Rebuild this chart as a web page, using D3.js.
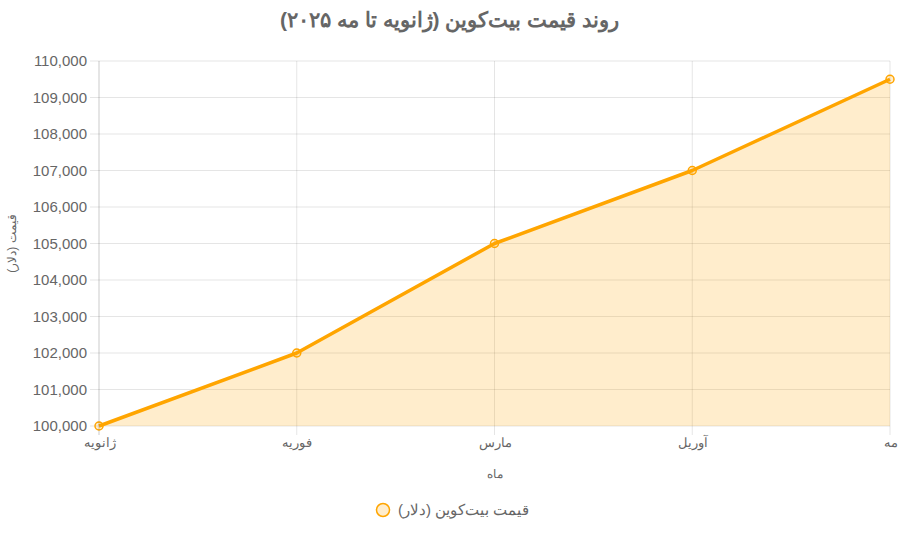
<!DOCTYPE html>
<html lang="fa">
<head>
<meta charset="utf-8">
<script src="https://cdn.jsdelivr.net/npm/d3@7/dist/d3.min.js"></script>
<style>
  html, body { margin: 0; padding: 0; background: #fff; }
  svg { display: block; font-family: "Helvetica Neue", Helvetica, Arial, sans-serif; }
</style>
</head>
<body>
<svg id="chart" width="899" height="533"></svg>
<script>
/** chart data */
const months = ["ژانویه", "فوریه", "مارس", "آوریل", "مه"];
const prices = [100000, 102000, 105000, 107000, 109500];
const yTicks = [100000, 101000, 102000, 103000, 104000, 105000, 106000, 107000, 108000, 109000, 110000];

const title = "روند قیمت بیت‌کوین (ژانویه تا مه ۲۰۲۵)";
const seriesName = "قیمت بیت‌کوین (دلار)";
const xTitle = "ماه";
const yTitle = "قیمت (دلار)";

const svg = d3.select("#chart");
const width = 899, height = 533;
const margin = { top: 61, right: 9, bottom: 107, left: 99 };
const grid = "rgba(0,0,0,0.1)";
const textColor = "#666";
const orange = "rgb(255,165,0)";

/** scales */
const x = d3.scalePoint()
  .domain(months)
  .range([margin.left, width - margin.right]);

const y = d3.scaleLinear()
  .domain([100000, 110000])
  .range([height - margin.bottom, margin.top]);

/** grid lines */
svg.append("g")
  .selectAll("line")
  .data(yTicks)
  .join("line")
  .attr("x1", margin.left - 9)
  .attr("x2", width - margin.right)
  .attr("y1", (d) => y(d))
  .attr("y2", (d) => y(d))
  .attr("stroke", grid);

svg.append("g")
  .selectAll("line")
  .data(months)
  .join("line")
  .attr("x1", (d) => x(d))
  .attr("x2", (d) => x(d))
  .attr("y1", margin.top)
  .attr("y2", height - margin.bottom + 9)
  .attr("stroke", grid);

/** area + line */
const area = d3.area()
  .x((d, i) => x(months[i]))
  .y0(y(100000))
  .y1((d) => y(d));

const line = d3.line()
  .x((d, i) => x(months[i]))
  .y((d) => y(d));

svg.append("path")
  .attr("d", area(prices))
  .attr("fill", "rgba(255,165,0,0.2)");

svg.append("path")
  .attr("d", line(prices))
  .attr("fill", "none")
  .attr("stroke", orange)
  .attr("stroke-width", 3.5)
  .attr("stroke-linejoin", "round");

/** points */
svg.append("g")
  .selectAll("circle")
  .data(prices)
  .join("circle")
  .attr("cx", (d, i) => x(months[i]))
  .attr("cy", (d) => y(d))
  .attr("r", 4)
  .attr("fill", "rgba(255,165,0,0.2)")
  .attr("stroke", orange)
  .attr("stroke-width", 1.5);

/** axes text */
const yAxis = d3.axisLeft(y).tickValues(yTicks).tickFormat(d3.format(",")).tickSize(0).tickPadding(12);
const gy = svg.append("g").attr("transform", `translate(${margin.left},0)`).call(yAxis);
gy.select(".domain").remove();
gy.selectAll("text")
  .attr("fill", textColor)
  .style("font-size", "15px")
  .style("font-family", "\"Helvetica Neue\", Helvetica, Arial, sans-serif");

const xAxis = d3.axisBottom(x).tickSize(0).tickPadding(12);
const gx = svg.append("g").attr("transform", `translate(0,${height - margin.bottom})`).call(xAxis);
gx.select(".domain").remove();
gx.selectAll("text")
  .attr("fill", textColor)
  .attr("direction", "rtl")
  .style("font-size", "13px")
  .style("font-family", "\"Helvetica Neue\", Helvetica, Arial, sans-serif");

/** left border line of chart area */
svg.append("line")
  .attr("x1", margin.left).attr("x2", margin.left)
  .attr("y1", margin.top).attr("y2", height - margin.bottom + 9)
  .attr("stroke", grid);

/** titles */
svg.append("text")
  .text(title)
  .attr("x", width / 2)
  .attr("y", 27)
  .attr("text-anchor", "middle")
  .attr("direction", "rtl")
  .attr("fill", textColor)
  .style("font-size", "21px")
  .style("font-weight", "bold");

svg.append("text")
  .text(xTitle)
  .attr("x", (margin.left + width - margin.right) / 2)
  .attr("y", 478)
  .attr("text-anchor", "middle")
  .attr("direction", "rtl")
  .attr("fill", textColor)
  .style("font-size", "12px");

svg.append("text")
  .text(yTitle)
  .attr("transform", `translate(16,${(margin.top + height - margin.bottom) / 2}) rotate(-90)`)
  .attr("text-anchor", "middle")
  .attr("direction", "rtl")
  .attr("fill", textColor)
  .style("font-size", "12px");

/** legend */
const legend = svg.append("g").attr("transform", "translate(383,510)");
legend.append("circle")
  .attr("r", 6.5)
  .attr("fill", "rgba(255,165,0,0.2)")
  .attr("stroke", orange)
  .attr("stroke-width", 1.5);
legend.append("text")
  .text(seriesName)
  .attr("x", 15)
  .attr("y", 5)
  .attr("direction", "rtl")
  .attr("text-anchor", "end")
  .attr("fill", textColor)
  .style("font-size", "15px");
</script>
</body>
</html>
